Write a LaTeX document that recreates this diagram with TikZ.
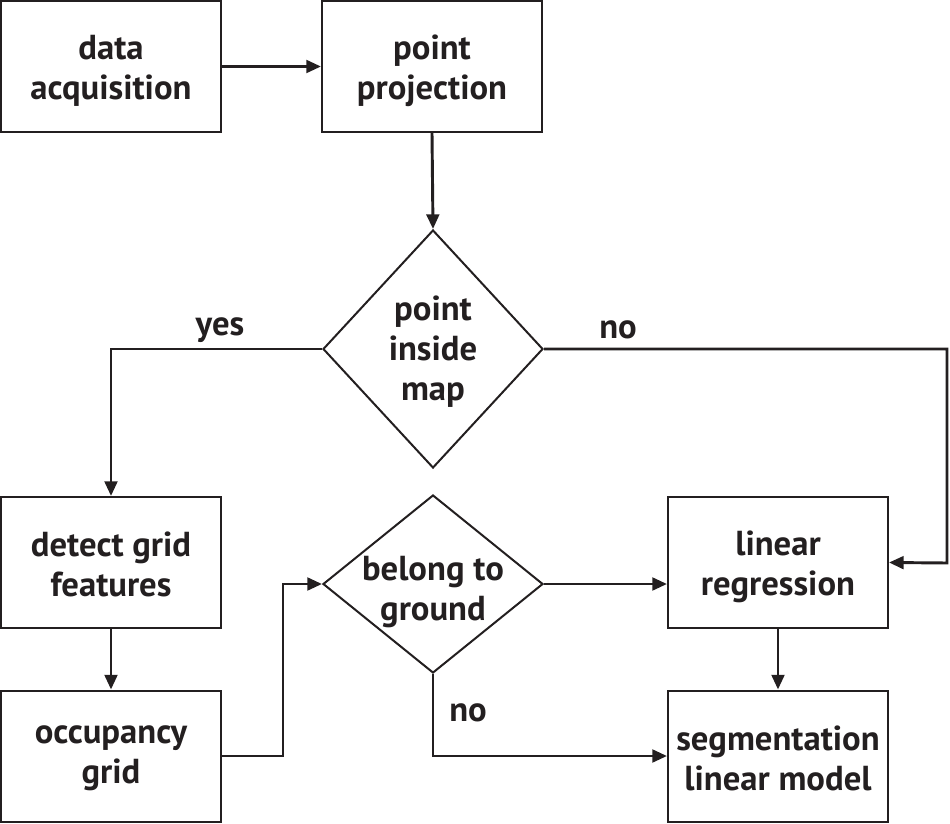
\documentclass[tikz,border=0pt]{standalone}
\usepackage{fontspec}
\setmainfont{PT Sans}
\usetikzlibrary{shapes.geometric,arrows.meta,calc}
\definecolor{ink}{HTML}{231F20}
\begin{document}
\begin{tikzpicture}[x=0.75pt,y=-0.75pt,
  every node/.style={font=\bfseries\fontsize{26}{30}\selectfont, text=ink},
  procbox/.style={draw=ink, line width=1.5pt, rectangle, minimum width=165pt, minimum height=98.25pt, inner sep=0pt},
  decbox/.style={draw=ink, line width=1.5pt, diamond, inner sep=0pt},
  txt/.style={align=center, inner sep=0pt},
  conn/.style={draw=ink, line width=2.2pt, -{Triangle[length=11pt,width=9.5pt]}}
]
\useasboundingbox (0,0) rectangle (950,824);
\node[procbox] (da) at (111,66.5) {};
\node[procbox] (pp) at (432,66.5) {};
\node[decbox, minimum width=165pt, minimum height=178.5pt] (pim) at (433,349) {};
\node[procbox] (dg) at (111,562.5) {};
\node[procbox] (og) at (111,756) {};
\node[decbox, minimum width=165pt, minimum height=133.5pt] (bg) at (433,584) {};
\node[procbox] (lr) at (778,562.5) {};
\node[procbox] (sl) at (778,756) {};
\node[txt] (dat) at ($(da.center)+(0,4)$) {data\\acquisition};
\node[txt] (ppt) at ($(pp.center)+(0,4)$) {point\\projection};
\node[txt] (pimt) at ($(pim.center)+(0,3)$) {point\\inside\\map};
\node[txt] (dgt) at ($(dg.center)+(0,2)$) {detect grid\\features};
\node[txt] (ogt) at ($(og.center)+(0,2)$) {occupancy\\grid};
\node[txt] (bgt) at ($(bg.center)+(0,8)$) {belong to\\ground};
\node[txt] (lrt) at ($(lr.center)+(0,4)$) {linear\\regression};
\node[txt] (slt) at ($(sl.center)+(0,2)$) {segmentation\\linear model};
\node[txt] (yes) at (220,330) {yes};
\node[txt] (no1) at (618,330) {no};
\node[txt] (no2) at (468,713) {no};
\coordinate (rr) at (947,563);
\coordinate (kk) at (283,584);
\draw[conn] (da.east) -- (pp.west);
\draw[conn] (pp.south) -- (pim.north);
\draw[conn] (pim.west) -| (dg.north);
\draw[conn] (pim.east) -| (rr) -- (lr.east);
\draw[conn] (dg.south) -- (og.north);
\draw[conn] (og.east) -| (kk) -- (bg.west);
\draw[conn] (bg.east) -- (bg.east -| lr.west);
\draw[conn] (bg.south) |- (sl.west);
\draw[conn] (lr.south) -- (sl.north);
\end{tikzpicture}
\end{document}
